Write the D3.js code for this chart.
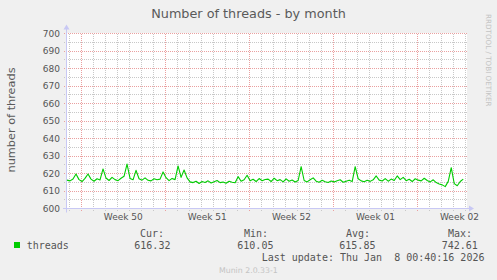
<!DOCTYPE html>
<html>
<head>
<meta charset="utf-8">
<script src="https://cdn.jsdelivr.net/npm/d3@7"></script>
<style>
  body { margin: 0; background: #f0f0f0; }
  svg { display: block; }
  text { font-family: 'DejaVu Sans', sans-serif; }
  .mono { font-family: 'DejaVu Sans Mono', monospace; white-space: pre; }
</style>
</head>
<body>
<div id="chart"></div>
<script>
// threads, one reading every 6 hours starting at dataStart
let dataStart = Date.UTC(2025, 11, 5, 19, 30);
let stepHours = 6;
let threads = [
  616.2, 615.8, 616.9, 619.7, 616.5, 615.4, 617.2, 619.7, 616.8, 615.6,
  617.0, 616.3, 622.6, 617.4, 616.0, 617.8, 616.5, 615.9, 617.3, 618.4,
  625.4, 617.2, 616.4, 621.8, 617.0, 616.2, 617.5, 616.1, 615.8, 617.0,
  616.4, 616.8, 620.9, 617.6, 615.9, 617.2, 616.5, 624.3, 617.8, 622.0,
  617.5, 615.2, 614.8, 615.6, 614.3, 615.4, 614.9, 615.8, 614.6, 615.3,
  616.0, 614.8, 615.1, 614.4, 615.6, 615.0, 614.7, 618.2, 615.6, 616.4,
  619.0, 615.8, 616.7, 615.4, 617.1, 615.9, 616.6, 616.8, 615.4, 617.3,
  615.9, 616.5, 615.2, 616.9, 615.6, 616.3, 615.1, 616.0, 623.9, 616.0,
  615.2, 616.4, 617.5, 615.6, 615.0, 616.1, 615.3, 614.9, 615.7, 615.2,
  615.9, 616.4, 615.0, 615.6, 616.2, 615.4, 623.9, 617.0, 615.8, 615.3,
  616.1, 615.5, 616.4, 618.6, 616.2, 615.7, 617.1, 615.6, 616.8, 616.0,
  618.6, 616.5, 617.8, 615.9, 616.7, 615.4, 617.0, 616.2, 615.8, 617.3,
  616.0, 615.2, 616.4, 614.8, 614.0, 613.5, 612.5, 615.5, 623.3, 614.2,
  613.0, 615.4, 616.8
];
let weekLabels = ['Week 50', 'Week 51', 'Week 52', 'Week 01', 'Week 02'];
let weekStarts = [Date.UTC(2025, 11, 7), Date.UTC(2025, 11, 14), Date.UTC(2025, 11, 21),
                  Date.UTC(2025, 11, 28), Date.UTC(2026, 0, 4)];
let yTicks = [600, 610, 620, 630, 640, 650, 660, 670, 680, 690, 700];
let legendHeads = ['Cur:', 'Min:', 'Avg:', 'Max:'];
let legendVals = ['616.32', '610.05', '615.85', '742.61'];

let w = 497;
let h = 280;
let pLeft = 67, pRight = 467, pTop = 33.5, pBottom = 208.5;

let xScale = d3.scaleUtc()
               .domain([new Date(Date.UTC(2025, 11, 5, 19, 30)), new Date(Date.UTC(2026, 0, 8, 3, 0))])
               .range([pLeft, pRight]);
let yScale = d3.scaleLinear()
               .domain([600, 700])
               .range([pBottom, pTop]);

let data = threads.map((v, i) => ({t: new Date(dataStart + i * stepHours * 3600000), v: v}));

let svg = d3.select('#chart')
            .append('svg')
            .attr('width', w)
            .attr('height', h);

svg.append('rect').attr('width', w).attr('height', h).attr('fill', '#f0f0f0');
svg.append('rect')
   .attr('x', pLeft).attr('y', pTop - 0.5)
   .attr('width', pRight - pLeft).attr('height', pBottom - pTop)
   .attr('fill', '#ffffff');

let minorC = '#c8c8c8', majorC = '#eaa0a0';
let snap = (v) => Math.floor(v) + 0.5;

// horizontal grid: every 5, red every 10
let hLines = d3.range(600, 701, 5);
svg.append('g').selectAll('line')
   .data(hLines).enter().append('line')
   .attr('x1', pLeft - 3).attr('x2', pRight)
   .attr('y1', (d) => snap(yScale(d))).attr('y2', (d) => snap(yScale(d)))
   .attr('stroke', (d) => d % 10 === 0 ? majorC : minorC)
   .attr('stroke-dasharray', '1,1')
   .attr('shape-rendering', 'crispEdges');

// vertical grid: daily, red on week starts
let days = d3.utcDay.range(xScale.domain()[0], xScale.domain()[1]);
svg.append('g').selectAll('line')
   .data(days).enter().append('line')
   .attr('x1', (d) => snap(xScale(d))).attr('x2', (d) => snap(xScale(d)))
   .attr('y1', pTop).attr('y2', pBottom + 3)
   .attr('stroke', (d) => d.getUTCDay() === 0 ? majorC : minorC)
   .attr('stroke-dasharray', '1,1')
   .attr('shape-rendering', 'crispEdges');

// axes
let axisC = '#c8c8f4';
svg.append('line').attr('x1', pLeft - 4).attr('x2', pRight + 3)
   .attr('y1', pBottom).attr('y2', pBottom).attr('stroke', axisC);
svg.append('line').attr('x1', pLeft - 0.5).attr('x2', pLeft - 0.5)
   .attr('y1', pBottom + 4).attr('y2', pTop - 5).attr('stroke', axisC);
svg.append('path').attr('d', `M${pRight + 2},${pBottom - 3}L${pRight + 7},${pBottom}L${pRight + 2},${pBottom + 3}Z`).attr('fill', axisC);
svg.append('path').attr('d', `M${pLeft - 3.5},${pTop - 4}L${pLeft - 0.5},${pTop - 9}L${pLeft + 2.5},${pTop - 4}Z`).attr('fill', axisC);

// y labels
svg.append('g').selectAll('text')
   .data(yTicks).enter().append('text')
   .attr('x', 60).attr('y', (d) => yScale(d) + 3.4)
   .attr('text-anchor', 'end')
   .style('font-size', '9px')
   .attr('fill', '#555')
   .text((d) => d);

// week labels
svg.append('g').selectAll('text')
   .data(weekLabels).enter().append('text')
   .attr('x', (d, i) => xScale(new Date(weekStarts[i] + 3.5 * 86400000)))
   .attr('y', 220)
   .attr('text-anchor', 'middle')
   .style('font-size', '9px')
   .attr('fill', '#555')
   .text((d) => d);

// the series
let line = d3.line().x((d) => xScale(d.t)).y((d) => yScale(d.v));
svg.append('path').datum(data)
   .attr('d', line)
   .attr('fill', 'none')
   .attr('stroke', '#00cc00')
   .attr('stroke-width', 1.1)
   .attr('stroke-linejoin', 'round');

// titles
svg.append('text').attr('x', 248.5).attr('y', 18)
   .attr('text-anchor', 'middle').style('font-size', '12.8px')
   .attr('fill', '#5a5a5a').text('Number of threads - by month');
svg.append('text').attr('transform', 'translate(15,120) rotate(-90)')
   .attr('text-anchor', 'middle').style('font-size', '11.3px')
   .attr('fill', '#5a5a5a').text('number of threads');
svg.append('text').attr('transform', 'translate(485.5,14) rotate(90)')
   .style('font-size', '7.2px')
   .attr('fill', '#c4c4c4').text('RRDTOOL / TOBI OETIKER');

// legend
svg.append('rect').attr('x', 14).attr('y', 242).attr('width', 6).attr('height', 6).attr('fill', '#00cc00');
svg.append('text').attr('class', 'mono').attr('x', 26.7).attr('y', 249.3)
   .style('font-size', '10px').attr('fill', '#555').text('threads');
let headX = [140, 244, 346, 448];
let valX = [134.3, 237.3, 339.3, 441.7];
svg.append('g').selectAll('text')
   .data(legendHeads).enter().append('text')
   .attr('class', 'mono').attr('x', (d, i) => headX[i]).attr('y', 237.3)
   .style('font-size', '10px').attr('fill', '#555').text((d) => d);
svg.append('g').selectAll('text')
   .data(legendVals).enter().append('text')
   .attr('class', 'mono').attr('x', (d, i) => valX[i]).attr('y', 249.3)
   .style('font-size', '10px').attr('fill', '#555').text((d) => d);
svg.append('text').attr('class', 'mono').attr('x', 261.7).attr('y', 261)
   .style('font-size', '10px').attr('fill', '#555')
   .text('Last update: Thu Jan  8 00:40:16 2026');
svg.append('text').attr('x', 219).attr('y', 273)
   .style('font-size', '7.8px').attr('fill', '#c4c4c4').text('Munin 2.0.33-1');
</script>
</body>
</html>
